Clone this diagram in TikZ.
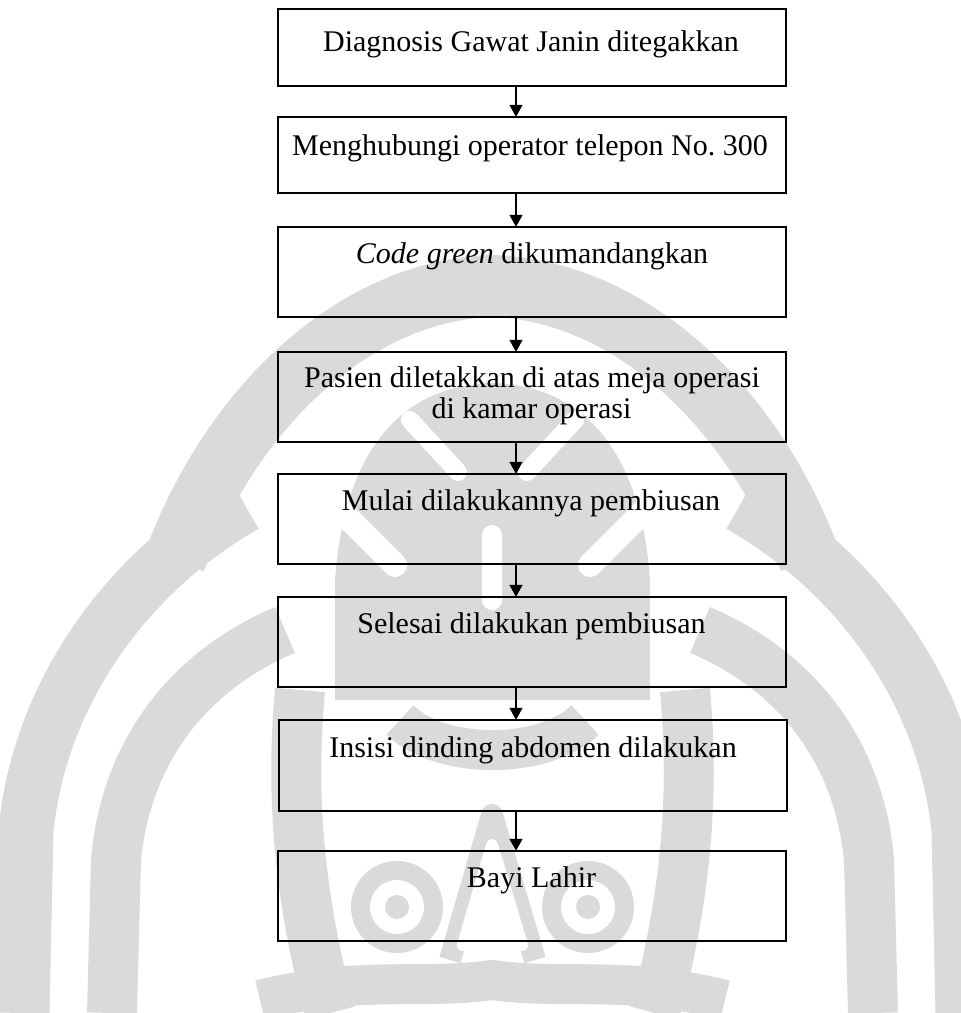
\documentclass[tikz,border=0pt]{standalone}
\usepackage{fontspec}
\setmainfont{Liberation Serif}
\usetikzlibrary{arrows.meta}

\definecolor{wmgray}{RGB}{218,218,218}

\begin{document}
\begin{tikzpicture}[
  x=1bp, y=-1bp,
  box/.style={draw=black, line width=1.3bp, minimum width=508bp, inner sep=0pt},
  txt/.style={anchor=base, inner sep=0pt, font=\fontsize{30bp}{31bp}\selectfont},
  flow/.style={draw=black, line width=1.1bp, -{Triangle[width=13bp,length=12bp]}, shorten >=-0.5bp},
  wmband/.style={draw=wmgray, line cap=butt, line join=round},
  wmcut/.style={draw=white, line cap=round, line join=round}
]
\useasboundingbox (0,0) rectangle (961,1013);

% ---- faint emblem in the background ----
\begin{scope}
  \clip (0,0) rectangle (961,1013);
  % roof of the head
  \draw[wmband, line width=62bp] (175,560) .. controls (235,400) and (360,290) .. (492,286)
     .. controls (625,290) and (750,400) .. (810,560);
  % inner face
  \fill[wmgray] (335,580) .. controls (345,440) and (410,385) .. (492,383)
     .. controls (575,385) and (640,440) .. (650,580) -- (650,700) -- (335,700) -- cycle;
  \draw[wmcut, line width=24bp] (300,470) -- (395,565);
  \draw[wmcut, line width=24bp] (685,470) -- (590,565);
  \draw[wmcut, line width=18bp] (410,420) -- (458,472);
  \draw[wmcut, line width=18bp] (575,420) -- (527,472);
  \draw[wmcut, line width=20bp] (492,535) -- (492,600);
  % side wings, two nested bands each
  \draw[wmband, line width=55bp] (22,1013) -- (26,830) .. controls (40,690) and (130,570) .. (245,505);
  \draw[wmband, line width=50bp] (112,1013) -- (116,860) .. controls (126,750) and (190,670) .. (285,630);
  \draw[wmband, line width=55bp] (963,1013) -- (959,830) .. controls (945,690) and (855,570) .. (740,505);
  \draw[wmband, line width=50bp] (873,1013) -- (869,860) .. controls (859,750) and (795,670) .. (700,630);
  % cheeks
  \draw[wmband, line width=50bp] (300,690) .. controls (290,800) and (300,900) .. (330,1013);
  \draw[wmband, line width=50bp] (685,690) .. controls (695,800) and (685,900) .. (655,1013);
  \draw[wmband, line width=40bp] (400,720) .. controls (440,760) and (545,760) .. (585,720);
  % eyes
  \fill[wmgray] (397,907) circle[radius=46bp];
  \fill[wmgray] (588,907) circle[radius=46bp];
  \fill[white] (397,907) circle[radius=27bp];
  \fill[white] (588,907) circle[radius=27bp];
  \fill[wmgray] (397,907) circle[radius=12bp];
  \fill[wmgray] (588,907) circle[radius=12bp];
  % central inverted V between the eyes
  \draw[wmband, line width=22bp] (450,960) -- (492,815) -- (535,960);
  \draw[wmcut, line width=12bp] (463,945) -- (492,845) -- (522,945);
  % mouth
  \draw[wmband, line width=40bp] (260,1000) .. controls (360,975) and (420,990) .. (492,980)
     .. controls (565,990) and (625,975) .. (725,1000);
\end{scope}

% ---- process boxes ----
\node[box, minimum height=77bp] (b1) at (532,47.5)  {};
\node[box, minimum height=76bp] (b2) at (532,155)   {};
\node[box, minimum height=90bp] (b3) at (532,272)   {};
\node[box, minimum height=90bp] (b4) at (532,397)   {};
\node[box, minimum height=90bp] (b5) at (532,519)   {};
\node[box, minimum height=90bp] (b6) at (532,642)   {};
\node[box, minimum height=91bp] (b7) at (533,765.5) {};
\node[box, minimum height=90bp] (b8) at (532,896)   {};

% box captions, placed on their baselines
\node[txt] (t1)  at (531,51)  {Diagnosis Gawat Janin ditegakkan};
\node[txt] (t2)  at (530,155) {Menghubungi operator telepon No.\ 300};
\node[txt] (t3)  at (532,263) {\textit{Code green} dikumandangkan};
\node[txt] (t4a) at (532,387) {Pasien diletakkan di atas meja operasi};
\node[txt] (t4b) at (531.5,418) {di kamar operasi};
\node[txt] (t5)  at (531,510) {Mulai dilakukannya pembiusan};
\node[txt] (t6)  at (531.5,633) {Selesai dilakukan pembiusan};
\node[txt] (t7)  at (533,757) {Insisi dinding abdomen dilakukan};
\node[txt] (t8)  at (531.5,887) {Bayi Lahir};

% connectors run on a common vertical slightly left of the box centres
\coordinate (ax) at (516,0);
\foreach \a/\b in {b1/b2,b2/b3,b3/b4,b4/b5,b5/b6,b6/b7,b7/b8}
  \draw[flow] (\a.south -| ax) -- (\b.north -| ax);
\end{tikzpicture}
\end{document}
